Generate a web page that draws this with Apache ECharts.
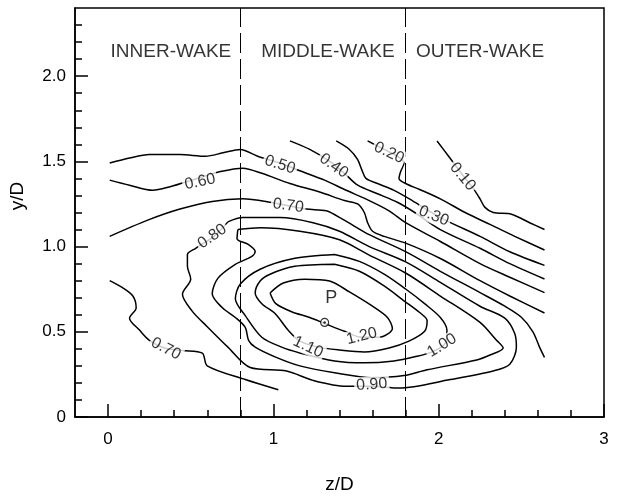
<!DOCTYPE html>
<html>
<head>
<meta charset="utf-8">
<script src="https://cdn.jsdelivr.net/npm/echarts@6/dist/echarts.min.js"></script>
<style>
  html, body { margin: 0; padding: 0; background: #fff; }
  #chart { width: 637px; height: 499px; }
</style>
</head>
<body>
<div id="chart"></div>
<script>
// contour lines, points are [z/D, y/D]
const c010 = [[1.99,1.62],[2.06,1.53],[2.145,1.42],[2.21,1.34],[2.25,1.28],[2.28,1.23],[2.33,1.20],[2.44,1.19],[2.55,1.14],[2.64,1.10]];
const c020 = [[1.57,1.62],[1.67,1.57],[1.75,1.53],[1.79,1.49],[1.77,1.44],[1.76,1.40],[1.80,1.37],[1.885,1.335],[2.01,1.28],[2.16,1.20],[2.31,1.13],[2.46,1.06],[2.64,0.98]];
const c030 = [[1.38,1.62],[1.46,1.57],[1.51,1.51],[1.535,1.45],[1.56,1.40],[1.63,1.37],[1.73,1.33],[1.84,1.27],[2.01,1.17],[2.25,1.06],[2.43,0.97],[2.64,0.89]];
const c040 = [[1.10,1.62],[1.22,1.57],[1.34,1.50],[1.43,1.43],[1.51,1.36],[1.63,1.31],[1.75,1.26],[1.855,1.20],[2.01,1.10],[2.25,0.99],[2.43,0.90],[2.64,0.81]];
const c050 = [[0.01,1.49],[0.13,1.52],[0.25,1.54],[0.435,1.54],[0.59,1.53],[0.695,1.55],[0.80,1.57],[0.905,1.53],[1.04,1.49],[1.16,1.445],[1.31,1.39],[1.43,1.335],[1.58,1.27],[1.70,1.21],[1.80,1.14],[2.01,1.03],[2.25,0.90],[2.43,0.82],[2.64,0.73]];
const c060 = [[0.01,1.39],[0.13,1.36],[0.27,1.33],[0.37,1.35],[0.54,1.40],[0.68,1.44],[0.815,1.46],[0.93,1.43],[1.10,1.37],[1.28,1.32],[1.43,1.27],[1.51,1.25],[1.55,1.20],[1.57,1.14],[1.60,1.09],[1.67,1.06],[1.80,1.02],[2.01,0.93],[2.25,0.80],[2.43,0.71],[2.64,0.61]];
const c070a = [[0.01,1.06],[0.24,1.155],[0.435,1.22],[0.63,1.265],[0.815,1.28],[0.98,1.26],[1.20,1.22],[1.32,1.21],[1.42,1.16],[1.58,1.07],[1.80,0.97],[2.01,0.855],[2.25,0.73],[2.40,0.65],[2.50,0.585],[2.57,0.50],[2.61,0.41],[2.64,0.35]];
const c070b = [[0.01,0.80],[0.085,0.76],[0.15,0.71],[0.17,0.64],[0.13,0.58],[0.19,0.51],[0.25,0.45],[0.34,0.405],[0.45,0.39],[0.57,0.375],[0.60,0.30],[0.83,0.22],[1.03,0.16]];
const c080 = [[0.725,1.145],[0.815,1.17],[1.04,1.17],[1.24,1.14],[1.40,1.09],[1.58,1.00],[1.80,0.91],[2.01,0.79],[2.25,0.65],[2.40,0.58],[2.46,0.49],[2.47,0.41],[2.43,0.31],[2.33,0.27],[2.07,0.22],[1.76,0.17],[1.595,0.18],[1.44,0.18],[1.24,0.215],[1.08,0.27],[0.86,0.29],[0.725,0.41],[0.60,0.53],[0.51,0.62],[0.45,0.72],[0.50,0.81],[0.48,0.885],[0.48,0.954],[0.53,0.99],[0.64,1.06],[0.725,1.145]];
const c090 = [[0.785,1.10],[0.92,1.11],[1.16,1.09],[1.40,1.04],[1.58,0.95],[1.80,0.845],[2.01,0.71],[2.25,0.555],[2.35,0.45],[2.39,0.405],[2.31,0.364],[2.23,0.335],[1.93,0.277],[1.79,0.243],[1.595,0.231],[1.37,0.26],[1.16,0.30],[1.01,0.353],[0.89,0.41],[0.85,0.45],[0.83,0.526],[0.77,0.584],[0.69,0.642],[0.63,0.723],[0.665,0.815],[0.77,0.896],[0.87,0.942],[0.89,0.971],[0.85,1.012],[0.78,1.046],[0.785,1.10]];
const c100 = [[1.37,0.954],[1.52,0.913],[1.67,0.838],[1.80,0.751],[1.915,0.665],[2.01,0.584],[2.05,0.509],[2.04,0.434],[1.96,0.382],[1.855,0.353],[1.73,0.329],[1.55,0.318],[1.37,0.329],[1.16,0.376],[1.05,0.41],[0.93,0.468],[0.83,0.595],[0.77,0.694],[0.80,0.78],[0.92,0.867],[1.13,0.931],[1.37,0.954]];
const c110 = [[1.37,0.896],[1.52,0.855],[1.67,0.769],[1.79,0.682],[1.885,0.613],[1.93,0.566],[1.915,0.503],[1.82,0.445],[1.70,0.405],[1.55,0.382],[1.40,0.393],[1.27,0.41],[1.16,0.445],[1.09,0.509],[1.01,0.607],[0.93,0.665],[0.89,0.728],[0.92,0.798],[0.98,0.838],[1.13,0.884],[1.37,0.896]];
const c120 = [[0.98,0.728],[1.015,0.665],[1.11,0.618],[1.22,0.584],[1.31,0.549],[1.43,0.503],[1.535,0.468],[1.64,0.468],[1.72,0.52],[1.69,0.584],[1.595,0.653],[1.46,0.734],[1.34,0.798],[1.19,0.809],[1.06,0.786],[0.98,0.728]];

const contours = [c010, c020, c030, c040, c050, c060, c070a, c070b, c080, c090, c100, c110, c120];

// inline contour labels
const labelText = ['0.10','0.20','0.30','0.40','0.50','0.60','0.70','0.70','0.80','0.90','1.00','1.10','1.20'];
const labelPos = [[2.145,1.41],[1.70,1.55],[1.97,1.18],[1.365,1.474],[1.04,1.48],[0.556,1.38],[1.09,1.24],[0.35,0.40],[0.63,1.06],[1.595,0.19],[2.02,0.42],[1.21,0.41],[1.535,0.474]];
const labelAngle = [-50,-25,-22,-35,-18,12,-8,-28,35,4,32,-25,14];

// wake regions
const wakeBounds = [0.8, 1.8];
const wakeNames = ['INNER-WAKE', 'MIDDLE-WAKE', 'OUTER-WAKE'];
const wakeLabelZ = [0.38, 1.33, 2.25];
const wakeLabelY = 2.145;

// point P
const pointP = [1.31, 0.555];
const pointPText = [1.35, 0.70];

// ticks
const xMajor = [0, 1, 2, 3];
const xMinor = [0.2, 0.4, 0.6, 0.8, 1.2, 1.4, 1.6, 1.8, 2.2, 2.4, 2.6, 2.8];
const yMajor = [0, 0.5, 1.0, 1.5, 2.0];
const yMinor = [0.1, 0.2, 0.3, 0.4, 0.6, 0.7, 0.8, 0.9, 1.1, 1.2, 1.3, 1.4, 1.6, 1.7, 1.8, 1.9, 2.1, 2.2, 2.3];

const font = '"Liberation Sans", Arial, Helvetica, sans-serif';

let chart = echarts.init(document.getElementById('chart'));

let series = contours.map(function (pts) {
    return {
        type: 'line',
        data: pts,
        showSymbol: false,
        smooth: 0.3,
        lineStyle: { color: '#000', width: 1.5 },
        silent: true,
        z: 3
    };
});

series[0].markLine = {
    silent: true,
    symbol: 'none',
    label: { show: false },
    lineStyle: { color: '#000', width: 1, type: [20, 6] },
    data: wakeBounds.map(function (b) { return { xAxis: b }; })
};

series.push({
    type: 'scatter',
    symbolSize: 1,
    itemStyle: { color: 'rgba(0,0,0,0)' },
    z: 10,
    silent: true,
    data: labelText.map(function (t, i) {
        return {
            value: labelPos[i],
            label: {
                show: true,
                formatter: t,
                rotate: labelAngle[i],
                position: 'inside',
                color: '#000',
                fontSize: 16,
                fontFamily: font,
                backgroundColor: '#fff',
                padding: [0, 2]
            }
        };
    })
});

series.push({
    type: 'scatter',
    symbolSize: 1,
    itemStyle: { color: 'rgba(0,0,0,0)' },
    z: 10,
    silent: true,
    data: wakeNames.map(function (t, i) {
        return {
            value: [wakeLabelZ[i], wakeLabelY],
            label: {
                show: true, formatter: t, position: 'inside',
                color: '#000', fontSize: 19, fontFamily: font
            }
        };
    })
});

series.push({
    type: 'scatter',
    symbol: 'circle',
    symbolSize: 8,
    itemStyle: { color: '#fff', borderColor: '#000', borderWidth: 1.2 },
    z: 11,
    silent: true,
    data: [pointP]
});
series.push({
    type: 'scatter',
    symbol: 'circle',
    symbolSize: 2.5,
    itemStyle: { color: '#000' },
    z: 12,
    silent: true,
    data: [pointP]
});
series.push({
    type: 'scatter',
    symbolSize: 1,
    itemStyle: { color: 'rgba(0,0,0,0)' },
    z: 12,
    silent: true,
    data: [{
        value: pointPText,
        label: { show: true, formatter: 'P', position: 'inside', color: '#000', fontSize: 18, fontFamily: font }
    }]
});

let option = {
    animation: false,
    backgroundColor: '#fff',
    grid: {
        left: 75, right: 33, top: 8, bottom: 76,
        show: true, borderColor: '#000', borderWidth: 1.5
    },
    graphic: [{
        type: 'text',
        x: 18, y: 196,
        rotation: Math.PI / 2,
        style: {
            text: 'y/D', fill: '#000', fontSize: 19, fontFamily: font,
            textAlign: 'center', textVerticalAlign: 'middle'
        }
    }],
    xAxis: [{
        type: 'value',
        min: -0.2, max: 3,
        name: 'z/D',
        nameLocation: 'middle',
        nameGap: 58,
        nameTextStyle: { color: '#000', fontSize: 19, fontFamily: font },
        axisLine: { show: true, onZero: false, lineStyle: { color: '#000', width: 1.5 } },
        axisTick: { show: true, inside: true, length: 13, customValues: xMajor, lineStyle: { color: '#000', width: 1.5 } },
        axisLabel: { customValues: xMajor, color: '#000', fontSize: 17, fontFamily: font, margin: 14 },
        splitLine: { show: false }
    }, {
        type: 'value',
        min: -0.2, max: 3,
        position: 'bottom',
        offset: 0,
        axisLine: { show: false, onZero: false },
        axisTick: { show: true, inside: true, length: 7, customValues: xMinor, lineStyle: { color: '#000', width: 1.5 } },
        axisLabel: { show: false },
        splitLine: { show: false }
    }],
    yAxis: [{
        type: 'value',
        min: 0, max: 2.4,
        axisLine: { show: true, onZero: false, lineStyle: { color: '#000', width: 1.5 } },
        axisTick: { show: true, inside: true, length: 13, customValues: yMajor, lineStyle: { color: '#000', width: 1.5 } },
        axisLabel: {
            customValues: yMajor, color: '#000', fontSize: 17, fontFamily: font, margin: 9,
            formatter: function (v) { return v === 0 ? '0' : v.toFixed(1); }
        },
        splitLine: { show: false }
    }, {
        type: 'value',
        min: 0, max: 2.4,
        position: 'left',
        offset: 0,
        axisLine: { show: false, onZero: false },
        axisTick: { show: true, inside: true, length: 7, customValues: yMinor, lineStyle: { color: '#000', width: 1.5 } },
        axisLabel: { show: false },
        splitLine: { show: false }
    }],
    series: series
};

chart.setOption(option);
</script>
</body>
</html>
